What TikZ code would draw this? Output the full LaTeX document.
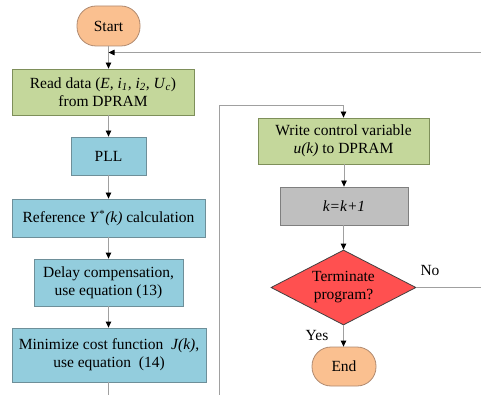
\documentclass[tikz,border=0pt]{standalone}
\usepackage{fontspec}
\setmainfont{Liberation Serif}
\newfontfamily\tnr{Liberation Serif}
\usetikzlibrary{shapes.geometric,arrows.meta}
\definecolor{peach}{HTML}{FAC090}
\definecolor{peachb}{HTML}{B08A70}
\definecolor{grn}{HTML}{C4D79B}
\definecolor{grnb}{HTML}{7E8F5A}
\definecolor{blu}{HTML}{93CDDD}
\definecolor{blub}{HTML}{6E8F99}
\definecolor{gry}{HTML}{BFBFBF}
\definecolor{gryb}{HTML}{7F7F7F}
\definecolor{rd}{HTML}{FF5050}
\definecolor{rdb}{HTML}{404040}
\definecolor{conn}{HTML}{A0A0A0}
\begin{document}
\begin{tikzpicture}[x=1pt,y=-1pt,
  every node/.style={font=\tnr\fontsize{15.5}{18}\selectfont, align=center, inner sep=1pt},
  term/.style={draw=peachb, fill=peach, rounded corners=19pt, line width=0.8pt},
  gbox/.style={draw=grnb, fill=grn, line width=0.8pt},
  bbox/.style={draw=blub, fill=blu, line width=0.8pt},
  kbox/.style={draw=gryb, fill=gry, line width=0.8pt},
  dec/.style={diamond, draw=rdb, fill=rd, line width=0.8pt, aspect=1.93, inner sep=0pt},
  ln/.style={draw=conn, line width=0.8pt},
  arr/.style={ln, -{Triangle[length=6pt,width=5.5pt,color=black]}}]
\useasboundingbox (0,0) rectangle (481,395);
\node[term, minimum width=63, minimum height=40] (start) at (108.5,26) {Start};
\node[gbox, minimum width=182, minimum height=46] (read) at (103,92) {Read data (\textit{E, i}\textsubscript{\textit{1}}\textit{, i}\textsubscript{\textit{2}}\textit{, U}\textsubscript{\textit{c}})\\from DPRAM};
\node[bbox, minimum width=75, minimum height=38] (pll) at (108.5,156) {PLL};
\node[bbox, minimum width=193, minimum height=38] (ref) at (108.5,218) {Reference \textit{Y}\textsuperscript{*}\textit{(k)} calculation};
\node[bbox, minimum width=149, minimum height=47] (delay) at (108.5,282.5) {Delay compensation,\\use equation (13)};
\node[bbox, minimum width=194, minimum height=54] (min) at (109,355) {Minimize cost function~ \textit{J(k)},\\use equation~ (14)};
\node[gbox, minimum width=171, minimum height=46] (write) at (343.5,141) {Write control variable\\\textit{u(k)} to DPRAM};
\node[kbox, minimum width=128, minimum height=38] (kk) at (344,206) {\textit{k=k+1}};
\node[dec, minimum width=145, minimum height=75] (term) at (343.5,287.5) {Terminate\\program?};
\node[term, minimum width=64, minimum height=39] (end) at (344,366.5) {End};
\node (no) at (430,270) {No};
\node (yes) at (317,335) {Yes};
\coordinate (retR) at (481,52.5);
\coordinate (noR) at (481,287.5);
\coordinate (minD) at (108.5,395);
\coordinate (loopD) at (219.5,395);
\coordinate (loopT) at (219.5,105);
% connectors
\draw[arr] (start.south) -- (start.south |- read.north);
\draw[arr] (retR) -- (start.south |- retR);
\draw[arr] (read.south -| pll.north) -- (pll.north);
\draw[arr] (pll) -- (ref);
\draw[arr] (ref) -- (delay);
\draw[arr] (delay) -- (delay.south |- min.north);
\draw[ln] (min.south -| minD) -- (minD);
\draw[arr] (loopD) -- (loopT) -- (loopT -| write.north) -- (write.north);
\draw[arr] (write.south -| kk.north) -- (kk.north);
\draw[arr] (kk.south -| term.north) -- (term.north);
\draw[arr] (term.south) -- (term.south |- end.north);
\draw[ln] (term.east) -- (noR);
\end{tikzpicture}
\end{document}
